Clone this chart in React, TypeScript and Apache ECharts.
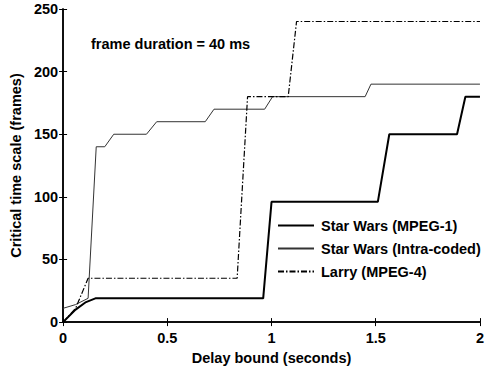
import React, { useEffect, useRef } from "react";
import * as echarts from "echarts";

const seriesNames = ["Star Wars (MPEG-1)", "Star Wars (Intra-coded)", "Larry (MPEG-4)"];

const mpeg1X = [0, 0.06, 0.11, 0.155, 0.96, 1.0, 1.51, 1.565, 1.89, 1.93, 2];
const mpeg1Y = [0, 10, 16, 19, 19, 96, 96, 150, 150, 180, 180];

const intraX = [0, 0.06, 0.12, 0.159, 0.2, 0.243, 0.4, 0.449, 0.682, 0.724, 0.967, 1.005, 1.449, 1.477, 2];
const intraY = [11, 14, 19, 140, 140, 150, 150, 160, 160, 170, 170, 180, 180, 190, 190];

const larryX = [0, 0.06, 0.12, 0.835, 0.885, 1.08, 1.12, 2];
const larryY = [0, 11, 35, 35, 180, 180, 240, 240];

const xTicks = [0, 0.5, 1, 1.5, 2];
const yTicks = [0, 50, 100, 150, 200, 250];

const annotation = "frame duration = 40 ms";
const xName = "Delay bound (seconds)";
const yName = "Critical time scale (frames)";

const zip = (xs: number[], ys: number[]) => xs.map((x, i) => [x, ys[i]]);

const FONT = "'Liberation Sans', Arial, Helvetica, sans-serif";

export default function App() {
  const ref = useRef<HTMLDivElement>(null);
  useEffect(() => {
    if (!ref.current) return;
    const chart = echarts.init(ref.current, null, { renderer: "svg" });
    const axisText = { color: "#000", fontFamily: FONT, fontSize: 14.5, fontWeight: "bold" as const };
    const xBase = {
      type: "value" as const,
      min: xTicks[0],
      max: xTicks[xTicks.length - 1],
      interval: 0.5,
      splitLine: { show: false },
      axisLine: { show: true, lineStyle: { color: "#000", width: 1.5 } },
      axisTick: { show: true, inside: true, length: 4, lineStyle: { color: "#000" } },
    };
    const yBase = {
      type: "value" as const,
      min: yTicks[0],
      max: yTicks[yTicks.length - 1],
      interval: 50,
      splitLine: { show: false },
      axisLine: { show: true, lineStyle: { color: "#000", width: 1.5 } },
      axisTick: { show: true, inside: true, length: 4, lineStyle: { color: "#000" } },
    };
    chart.setOption({
      animation: false,
      backgroundColor: "#fff",
      grid: { left: 57, right: 2, top: 9, bottom: 44, containLabel: false },
      xAxis: [
        {
          ...xBase,
          position: "bottom",
          name: xName,
          nameLocation: "middle",
          nameGap: 24,
          nameTextStyle: axisText,
          axisLabel: { ...axisText, margin: 8, formatter: (v: number) => String(v) },
        },
        { ...xBase, position: "top", axisLabel: { show: false } },
      ],
      yAxis: [
        {
          ...yBase,
          position: "left",
          name: yName,
          nameLocation: "middle",
          nameGap: 39,
          nameTextStyle: axisText,
          axisLabel: { ...axisText, margin: 5 },
        },
        { ...yBase, position: "right", axisLabel: { show: false } },
      ],
      legend: {
        show: true,
        orient: "vertical",
        left: 272,
        top: 213,
        itemWidth: 36,
        itemHeight: 10,
        itemGap: 8,
        itemStyle: { opacity: 0 },
        textStyle: { ...axisText, padding: [0, 0, 0, 2] },
        data: seriesNames,
      },
      graphic: [
        {
          type: "text",
          left: 91,
          top: 36,
          style: { text: annotation, fill: "#000", font: `bold 14.5px ${FONT}` },
        },
      ],
      series: [
        {
          name: seriesNames[0],
          type: "line",
          data: zip(mpeg1X, mpeg1Y),
          showSymbol: false,
          symbol: "none",
          lineStyle: { color: "#000", width: 2 },
          itemStyle: { color: "#000" },
        },
        {
          name: seriesNames[1],
          type: "line",
          data: zip(intraX, intraY),
          showSymbol: false,
          symbol: "none",
          lineStyle: { color: "#333", width: 1 },
          itemStyle: { color: "#333" },
        },
        {
          name: seriesNames[2],
          type: "line",
          data: zip(larryX, larryY),
          showSymbol: false,
          symbol: "none",
          lineStyle: { color: "#000", width: 1.2, type: [6, 2, 1.5, 2] },
          itemStyle: { color: "#000" },
        },
      ],
    });
    return () => chart.dispose();
  }, []);
  return <div ref={ref} style={{ width: 487, height: 370, position: "absolute", left: 0, top: 0 }} />;
}
